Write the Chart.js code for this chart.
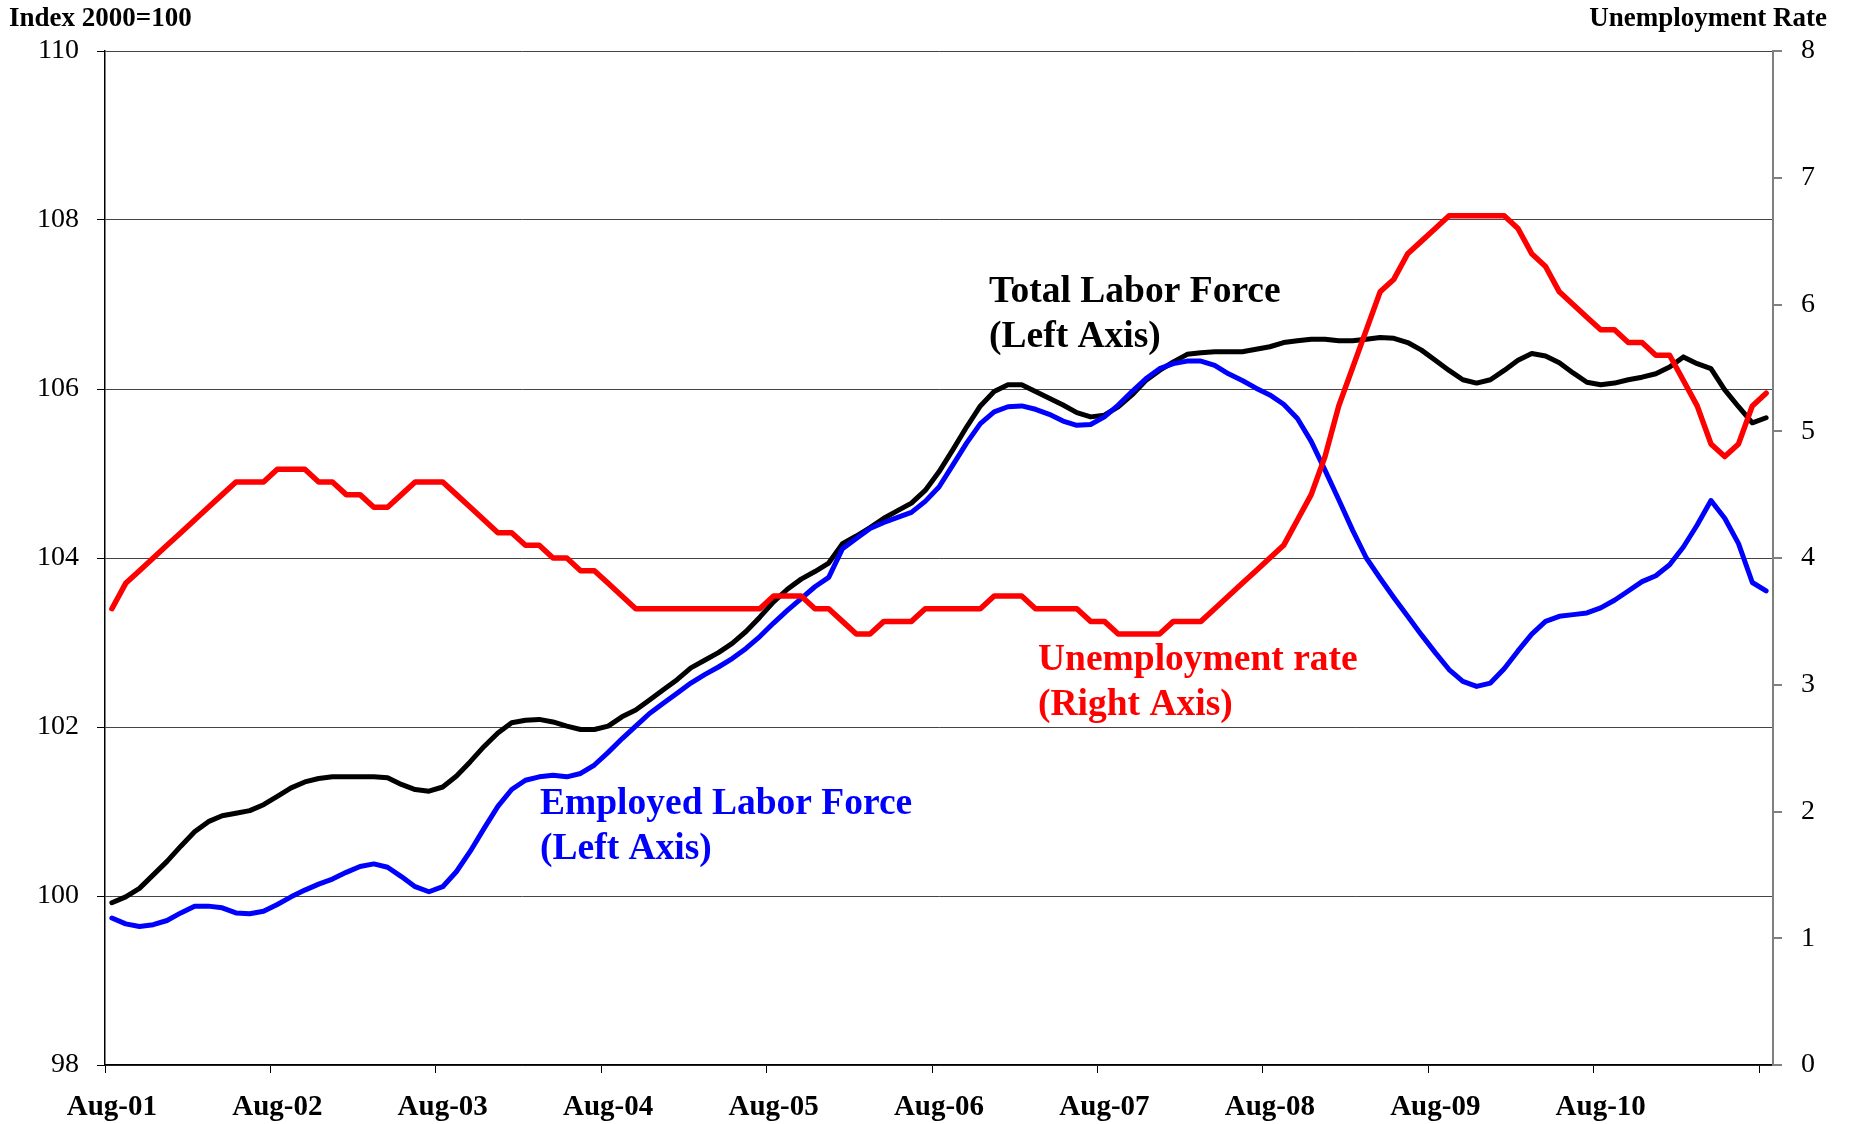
<!DOCTYPE html>
<html>
<head>
<meta charset="utf-8">
<script src="https://cdn.jsdelivr.net/npm/chart.js@4.4.1/dist/chart.umd.min.js"></script>
<style>
  html, body { margin: 0; padding: 0; background: #fff; }
  #wrap { width: 1850px; height: 1124px; position: relative; }
</style>
</head>
<body>
<div id="wrap"><canvas id="chart"></canvas></div>
<script>
/** Monthly data, Aug-01 .. Aug-11 */
const startYear = 2001;
const startMonth = 7; // August (0-based)
const monthCount = 121;

const tickLabels = ['Aug-01', 'Aug-02', 'Aug-03', 'Aug-04', 'Aug-05', 'Aug-06', 'Aug-07', 'Aug-08', 'Aug-09', 'Aug-10'];

const leftTicks = [98, 100, 102, 104, 106, 108, 110];
const rightTicks = [0, 1, 2, 3, 4, 5, 6, 7, 8];

const totalLaborForce = [
  99.92, 99.99, 100.09, 100.25, 100.41, 100.59, 100.76, 100.88, 100.95, 100.98,
  101.01, 101.08, 101.18, 101.28, 101.35, 101.39, 101.41, 101.41, 101.41, 101.41,
  101.40, 101.32, 101.26, 101.24, 101.29, 101.42, 101.59, 101.77, 101.93, 102.05,
  102.08, 102.09, 102.06, 102.01, 101.97, 101.97, 102.01, 102.12, 102.20, 102.32,
  102.44, 102.56, 102.70, 102.79, 102.88, 102.99, 103.13, 103.30, 103.48, 103.63,
  103.75, 103.84, 103.94, 104.17, 104.26, 104.36, 104.47, 104.56, 104.65, 104.80,
  105.02, 105.28, 105.55, 105.80, 105.97, 106.05, 106.05, 105.97, 105.89, 105.81,
  105.72, 105.67, 105.69, 105.79, 105.93, 106.10, 106.22, 106.32, 106.41, 106.43,
  106.44, 106.44, 106.44, 106.47, 106.50, 106.55, 106.57, 106.59, 106.59, 106.57,
  106.57, 106.59, 106.61, 106.60, 106.55, 106.46, 106.34, 106.22, 106.11, 106.07,
  106.11, 106.22, 106.34, 106.42, 106.39, 106.31, 106.19, 106.08, 106.05, 106.07,
  106.11, 106.14, 106.18, 106.26, 106.38, 106.30, 106.24, 105.99, 105.79, 105.60,
  105.66
];

const employedLaborForce = [
  99.74, 99.67, 99.64, 99.66, 99.71, 99.80, 99.88, 99.88, 99.86, 99.80,
  99.79, 99.82, 99.90, 99.99, 100.07, 100.14, 100.20, 100.28, 100.35, 100.38,
  100.34, 100.23, 100.11, 100.05, 100.11, 100.29, 100.53, 100.80, 101.06, 101.26,
  101.37, 101.41, 101.43, 101.41, 101.45, 101.55, 101.70, 101.86, 102.01, 102.16,
  102.28, 102.40, 102.52, 102.62, 102.71, 102.81, 102.93, 103.07, 103.23, 103.38,
  103.52, 103.66, 103.77, 104.11, 104.23, 104.35, 104.42, 104.48, 104.54, 104.67,
  104.84, 105.10, 105.36, 105.59, 105.73, 105.79, 105.80, 105.76, 105.70, 105.62,
  105.57, 105.58, 105.67, 105.81, 105.97, 106.12, 106.24, 106.30, 106.33, 106.33,
  106.28, 106.18, 106.10, 106.01, 105.93, 105.82, 105.65, 105.38, 105.04, 104.69,
  104.33, 104.00, 103.76, 103.53, 103.31, 103.09, 102.88, 102.68, 102.54, 102.48,
  102.52, 102.69, 102.90, 103.10, 103.25, 103.31, 103.33, 103.35, 103.41, 103.50,
  103.61, 103.72, 103.79, 103.92, 104.13, 104.39, 104.68, 104.47, 104.17, 103.71,
  103.61
];

const unemploymentRate = [
  3.6, 3.8, 3.9, 4.0, 4.1, 4.2, 4.3, 4.4, 4.5, 4.6,
  4.6, 4.6, 4.7, 4.7, 4.7, 4.6, 4.6, 4.5, 4.5, 4.4,
  4.4, 4.5, 4.6, 4.6, 4.6, 4.5, 4.4, 4.3, 4.2, 4.2,
  4.1, 4.1, 4.0, 4.0, 3.9, 3.9, 3.8, 3.7, 3.6, 3.6,
  3.6, 3.6, 3.6, 3.6, 3.6, 3.6, 3.6, 3.6, 3.7, 3.7,
  3.7, 3.6, 3.6, 3.5, 3.4, 3.4, 3.5, 3.5, 3.5, 3.6,
  3.6, 3.6, 3.6, 3.6, 3.7, 3.7, 3.7, 3.6, 3.6, 3.6,
  3.6, 3.5, 3.5, 3.4, 3.4, 3.4, 3.4, 3.5, 3.5, 3.5,
  3.6, 3.7, 3.8, 3.9, 4.0, 4.1, 4.3, 4.5, 4.8, 5.2,
  5.5, 5.8, 6.1, 6.2, 6.4, 6.5, 6.6, 6.7, 6.7, 6.7,
  6.7, 6.7, 6.6, 6.4, 6.3, 6.1, 6.0, 5.9, 5.8, 5.8,
  5.7, 5.7, 5.6, 5.6, 5.4, 5.2, 4.9, 4.8, 4.9, 5.2,
  5.3
];

/** Build month labels like Aug-01. */
const monthNames = ['Jan', 'Feb', 'Mar', 'Apr', 'May', 'Jun', 'Jul', 'Aug', 'Sep', 'Oct', 'Nov', 'Dec'];
const months = [];
for (let i = 0; i < monthCount; i++) {
  const m = (startMonth + i) % 12;
  const y = startYear + Math.floor((startMonth + i) / 12);
  months.push(monthNames[m] + '-' + String(y % 100).padStart(2, '0'));
}

/** Text notes on the chart. */
const notes = [
  { lines: ['Total Labor Force', '(Left Axis)'], color: '#000000', x: 989, y: 302 },
  { lines: ['Unemployment rate', '(Right Axis)'], color: '#ff0000', x: 1038, y: 670 },
  { lines: ['Employed Labor Force', '(Left Axis)'], color: '#0000ff', x: 540, y: 814 },
];

const FONT = "'Liberation Serif', 'Times New Roman', serif";

const textPlugin = {
  id: 'textPlugin',
  afterDraw(chart) {
    const ctx = chart.ctx;
    ctx.save();
    ctx.textBaseline = 'alphabetic';
    ctx.fillStyle = '#000';
    ctx.font = 'bold 27px ' + FONT;
    ctx.textAlign = 'left';
    ctx.fillText('Index 2000=100', 9, 26);
    ctx.textAlign = 'right';
    ctx.fillText('Unemployment Rate', 1827, 26);

    ctx.textAlign = 'left';
    ctx.font = 'bold 37.5px ' + FONT;
    notes.forEach((n) => {
      ctx.fillStyle = n.color;
      n.lines.forEach((line, k) => ctx.fillText(line, n.x, n.y + k * 45));
    });
    ctx.restore();
  },
};

Chart.defaults.font.family = FONT;
Chart.defaults.color = '#000';

const config = {
  type: 'line',
  data: {
    labels: months,
    datasets: [
      {
        label: 'Unemployment rate (Right Axis)',
        data: unemploymentRate,
        borderColor: '#ff0000',
        borderWidth: 5.5,
        yAxisID: 'y1',
      },
      {
        label: 'Employed Labor Force (Left Axis)',
        data: employedLaborForce,
        borderColor: '#0000ff',
        borderWidth: 5,
        yAxisID: 'y',
      },
      {
        label: 'Total Labor Force (Left Axis)',
        data: totalLaborForce,
        borderColor: '#000000',
        borderWidth: 5,
        yAxisID: 'y',
      },
    ],
  },
  options: {
    responsive: false,
    animation: false,
    devicePixelRatio: 1,
    layout: { padding: { top: 51, left: 0, right: 0, bottom: 0 } },
    elements: {
      point: { radius: 0 },
      line: { tension: 0, borderCapStyle: 'round', borderJoinStyle: 'round' },
    },
    plugins: {
      legend: { display: false },
      tooltip: { enabled: false },
    },
    scales: {
      x: {
        type: 'category',
        offset: true,
        afterFit: (s) => { s.height = 59; },
        grid: {
          offset: true,
          drawOnChartArea: false,
          drawTicks: true,
          tickLength: 8,
          tickColor: (c) => (c.index % 12 === 0 ? '#000' : 'rgba(0,0,0,0)'),
          color: 'rgba(0,0,0,0)',
        },
        border: { display: true, color: '#000', width: 1.5 },
        ticks: {
          autoSkip: false,
          maxRotation: 0,
          minRotation: 0,
          padding: 17,
          font: { size: 29, weight: 'bold' },
          callback: (val, idx) => (tickLabels.includes(months[idx]) ? months[idx] : ''),
        },
      },
      y: {
        position: 'left',
        min: 98,
        max: 110,
        afterFit: (s) => { s.width = 105; },
        afterBuildTicks: (s) => { s.ticks = leftTicks.map((v) => ({ value: v })); },
        grid: {
          color: '#444',
          lineWidth: 1,
          borderDash: [1, 1],
          tickColor: '#000',
          tickBorderDash: [],
          tickLength: 8,
        },
        border: { display: true, color: '#000', width: 1.5 },
        ticks: { padding: 18, font: { size: 28 } },
      },
      y1: {
        position: 'right',
        min: 0,
        max: 8,
        afterFit: (s) => { s.width = 77; },
        afterBuildTicks: (s) => { s.ticks = rightTicks.map((v) => ({ value: v })); },
        grid: {
          drawOnChartArea: false,
          tickColor: '#808080',
          tickLength: 9,
          lineWidth: 2,
        },
        border: { display: true, color: '#808080', width: 2 },
        ticks: { padding: 19, font: { size: 28 } },
      },
    },
  },
  plugins: [textPlugin],
};

const canvas = document.getElementById('chart');
canvas.width = 1850;
canvas.height = 1124;
new Chart(canvas.getContext('2d'), config);
</script>
</body>
</html>
